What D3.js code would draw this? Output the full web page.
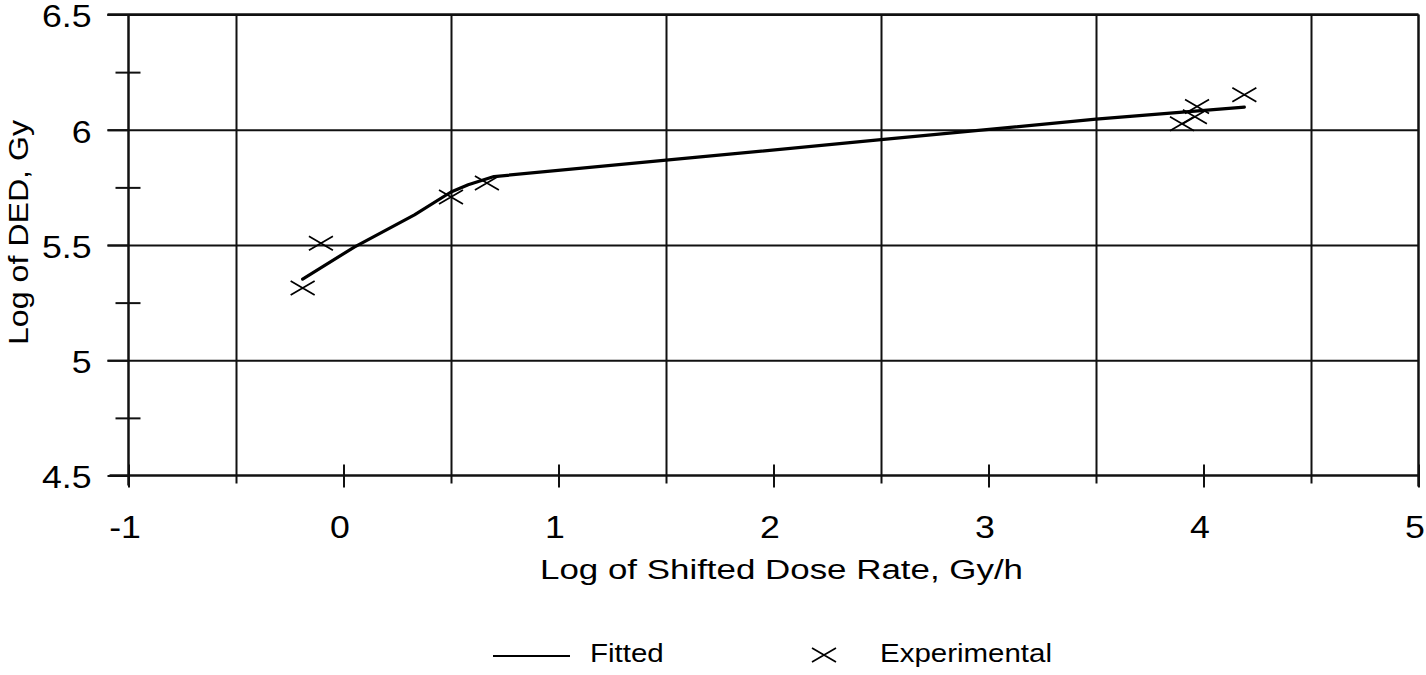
<!DOCTYPE html>
<html>
<head>
<meta charset="utf-8">
<script src="https://cdn.jsdelivr.net/npm/d3@7"></script>
<style>
  html, body { margin: 0; padding: 0; background: #fff; }
  svg { display: block; }
  text { font-family: "Liberation Sans", Arial, Helvetica, sans-serif; fill: #000; }
</style>
</head>
<body>
<svg id="chart" width="1426" height="675"></svg>
<script>
// Axis ticks and grid positions
const xTickValues = [-1, 0, 1, 2, 3, 4, 5];
const xGridValues = [-0.5, 0.5, 1.5, 2.5, 3.5, 4.5];
const yTickValues = [4.5, 5, 5.5, 6, 6.5];
const yGridValues = [5, 5.5, 6, 6.5];
const yMinorValues = [4.75, 5.25, 5.75, 6.25];

// Fitted curve (log shifted dose rate vs log DED)
const fitX = [-0.19, 0.05, 0.33, 0.50, 0.58, 0.70, 1.66, 2.50, 3.50, 4.19];
const fitY = [5.352, 5.491, 5.631, 5.730, 5.761, 5.797, 5.882, 5.957, 6.046, 6.098];

// Experimental points
const expX = [-0.19, -0.105, 0.50, 0.667, 3.90, 3.96, 3.97, 4.19];
const expY = [5.313, 5.508, 5.708, 5.769, 6.026, 6.056, 6.101, 6.152];

const xTitle = "Log of Shifted Dose Rate, Gy/h";
const yTitle = "Log of DED, Gy";
const legendLabels = ["Fitted", "Experimental"];

const svg = d3.select("#chart");
const ink = "#111";

const x = d3.scaleLinear().domain([-1, 5]).range([128.5, 1418.5]);
const y = d3.scaleLinear().domain([4.5, 6.5]).range([475.5, 14.5]);
const plotW = x(5) - x(-1);
const plotH = y(4.5) - y(6.5);

// Vertical grid lines at the half units
const vGrid = svg.append("g")
  .attr("transform", `translate(0,${y(4.5)})`)
  .call(d3.axisBottom(x).tickValues(xGridValues).tickSize(0).tickFormat(""));
vGrid.select(".domain").remove();
vGrid.selectAll(".tick line")
  .attr("y1", 8).attr("y2", -plotH)
  .attr("stroke", ink).attr("stroke-width", 2);

// Horizontal grid lines (extending left as major ticks)
const hGrid = svg.append("g")
  .attr("transform", `translate(${x(-1)},0)`)
  .call(d3.axisLeft(y).tickValues(yGridValues).tickSize(0).tickFormat(""));
hGrid.select(".domain").remove();
hGrid.selectAll(".tick line")
  .attr("x1", -21).attr("x2", plotW)
  .attr("stroke", ink).attr("stroke-width", 2);

// Minor y ticks crossing the axis
const yMinorAxis = svg.append("g")
  .attr("transform", `translate(${x(-1)},0)`)
  .call(d3.axisLeft(y).tickValues(yMinorValues).tickSize(0).tickFormat(""));
yMinorAxis.select(".domain").remove();
yMinorAxis.selectAll(".tick line")
  .attr("x1", -13).attr("x2", 12)
  .attr("stroke", ink).attr("stroke-width", 2);

// Left axis with labels
const yAxis = svg.append("g")
  .attr("transform", `translate(${x(-1)},0)`)
  .call(d3.axisLeft(y).tickValues(yTickValues).tickSize(21).tickFormat(d3.format("")));
yAxis.select(".domain").remove();
yAxis.selectAll(".tick line").attr("stroke", ink).attr("stroke-width", 2);
yAxis.selectAll(".tick text")
  .attr("x", -37 / 1.15).attr("dy", "0.4em")
  .attr("transform", "scale(1.15,1)")
  .style("font-size", "31px").attr("fill", "#000");

// Bottom axis with labels
const xAxis = svg.append("g")
  .attr("transform", `translate(0,${y(4.5)})`)
  .call(d3.axisBottom(x).tickValues(xTickValues).tickSize(12).tickFormat(d3.format("")));
xAxis.select(".domain").remove();
xAxis.selectAll(".tick line").attr("y1", -11).attr("y2", 12)
  .attr("stroke", ink).attr("stroke-width", 2);
xAxis.selectAll(".tick text")
  .attr("x", -4 / 1.15).attr("y", 62.5).attr("dy", 0)
  .attr("transform", "scale(1.15,1)")
  .style("font-size", "31px").attr("fill", "#000")
  .text(d => d < 0 ? "-" + Math.abs(d) : d);

// Frame: axis lines and borders
const frame = svg.append("g").attr("stroke", ink).attr("stroke-width", 2.5);
frame.append("line").attr("x1", x(-1)).attr("x2", x(-1)).attr("y1", y(6.5)).attr("y2", y(4.5) + 10);
frame.append("line").attr("x1", x(-1) - 19).attr("x2", x(5)).attr("y1", y(4.5)).attr("y2", y(4.5));
frame.append("line").attr("x1", x(5)).attr("x2", x(5)).attr("y1", y(6.5)).attr("y2", y(4.5) + 11);
frame.append("line").attr("x1", x(-1) - 21).attr("x2", x(5)).attr("y1", y(6.5)).attr("y2", y(6.5));

// Fitted curve
const fitData = fitX.map((d, i) => [d, fitY[i]]);
svg.append("path")
  .datum(fitData)
  .attr("fill", "none")
  .attr("stroke", "#000")
  .attr("stroke-width", 3.2)
  .attr("stroke-linejoin", "round")
  .attr("stroke-linecap", "round")
  .attr("d", d3.line().x(d => x(d[0])).y(d => y(d[1])));

// Experimental markers (x shapes)
const crossPath = "M-12,-7L12,7M-12,7L12,-7";
const expData = expX.map((d, i) => [d, expY[i]]);
svg.append("g").selectAll("path")
  .data(expData)
  .join("path")
  .attr("transform", d => `translate(${x(d[0])},${y(d[1])})`)
  .attr("d", crossPath)
  .attr("fill", "none")
  .attr("stroke", "#000")
  .attr("stroke-width", 1.7);

// Axis titles
svg.append("text")
  .attr("x", 540).attr("y", 579)
  .attr("textLength", 483).attr("lengthAdjust", "spacingAndGlyphs")
  .style("font-size", "27px")
  .text(xTitle);

svg.append("text")
  .attr("transform", "translate(28,232.5) rotate(-90)")
  .attr("text-anchor", "middle")
  .attr("textLength", 225).attr("lengthAdjust", "spacingAndGlyphs")
  .style("font-size", "28px")
  .text(yTitle);

// Legend
const legend = svg.append("g");
legend.append("line")
  .attr("x1", 493).attr("x2", 570).attr("y1", 656).attr("y2", 656)
  .attr("stroke", "#000").attr("stroke-width", 2);
legend.append("text")
  .attr("transform", "translate(590,661.5) scale(1.18,1)")
  .style("font-size", "25px")
  .text(legendLabels[0]);
legend.append("path")
  .attr("transform", "translate(824,655)")
  .attr("d", crossPath)
  .attr("fill", "none").attr("stroke", "#000").attr("stroke-width", 1.7);
legend.append("text")
  .attr("x", 880).attr("y", 661.5)
  .attr("textLength", 172).attr("lengthAdjust", "spacingAndGlyphs")
  .style("font-size", "25px")
  .text(legendLabels[1]);
</script>
</body>
</html>
